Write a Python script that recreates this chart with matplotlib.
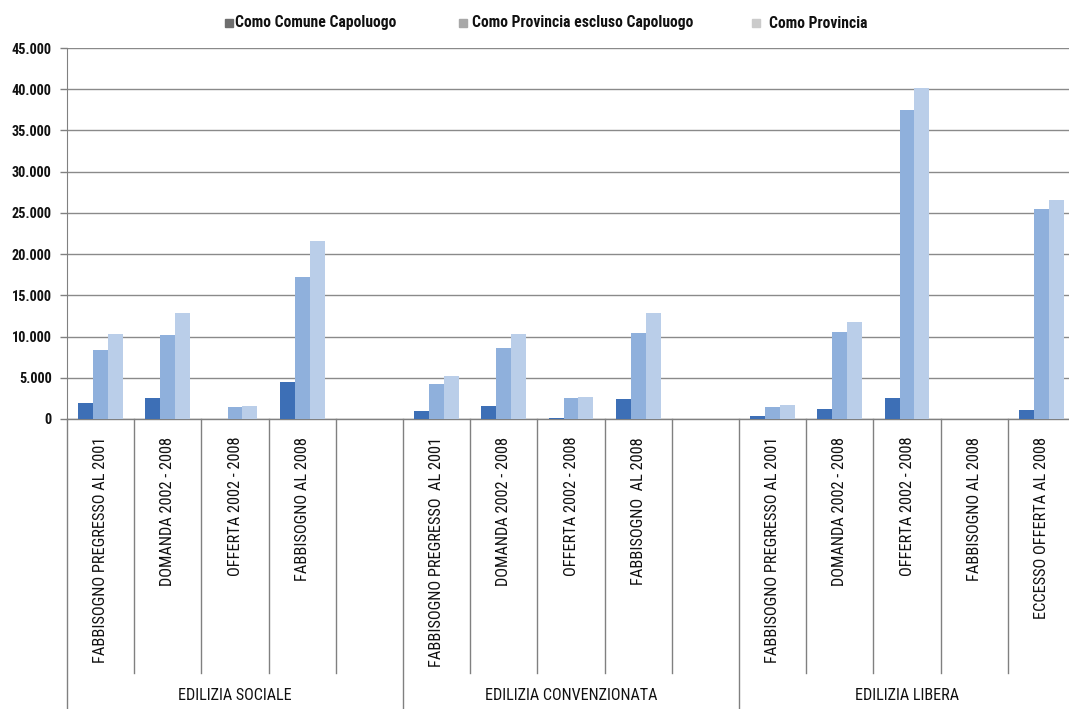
import matplotlib
matplotlib.use("Agg")
import matplotlib.pyplot as plt
from matplotlib import font_manager as fm
from matplotlib.textpath import TextPath
from matplotlib.transforms import blended_transform_factory
import numpy as np

# Housing figures for the province of Como
categories = [
    "FABBISOGNO PREGRESSO AL 2001", "DOMANDA 2002 - 2008", "OFFERTA 2002 - 2008",
    "FABBISOGNO AL 2008", "",
    "FABBISOGNO PREGRESSO  AL 2001", "DOMANDA 2002 - 2008", "OFFERTA 2002 - 2008",
    "FABBISOGNO  AL 2008", "",
    "FABBISOGNO PREGRESSO AL 2001", "DOMANDA 2002 - 2008", "OFFERTA 2002 - 2008",
    "FABBISOGNO AL 2008", "ECCESSO OFFERTA AL 2008",
]
groups = ["EDILIZIA SOCIALE", "EDILIZIA CONVENZIONATA", "EDILIZIA LIBERA"]
series_names = ["Como Comune Capoluogo", "Como Provincia escluso Capoluogo", "Como Provincia"]

comune = [1900, 2600, 50, 4450, 0,
          1000, 1600, 100, 2450, 0,
          350, 1200, 2600, 0, 1100]
provincia_escl = [8400, 10200, 1500, 17200, 0,
                  4200, 8650, 2600, 10400, 0,
                  1400, 10600, 37500, 0, 25500]
provincia = [10300, 12800, 1550, 21650, 0,
             5200, 10250, 2700, 12850, 0,
             1700, 11800, 40100, 0, 26600]

yticks = [0, 5000, 10000, 15000, 20000, 25000, 30000, 35000, 40000, 45000]
ytick_labels = ["0", "5.000", "10.000", "15.000", "20.000", "25.000",
                "30.000", "35.000", "40.000", "45.000"]

bar_colors = ["#3d6fb6", "#8fb0dc", "#bacee9"]
legend_colors = ["#6e6e6e", "#a8a8a8", "#cbcbcb"]

W, H = 1069, 709
DPI = 100


def pick_font(bold):
    """Prefer a narrow sans face; fall back to Liberation Sans."""
    wanted = ["Liberation Sans Narrow", "Arial Narrow", "Roboto Condensed",
              "Open Sans Condensed", "DejaVu Sans Condensed"]
    def is_bold(f):
        w = f.weight
        if isinstance(w, str):
            return "bold" in w.lower() or w.lower() in ("heavy", "black")
        return w >= 600
    for name in wanted:
        for f in fm.fontManager.ttflist:
            if f.name == name and is_bold(f) == bold and f.style == "normal":
                return fm.FontProperties(fname=f.fname)
    for f in fm.fontManager.ttflist:
        if (f.name == "DejaVu Sans" and "condensed" in str(f.stretch)
                and is_bold(f) == bold and f.style == "normal"):
            return fm.FontProperties(fname=f.fname)
    return fm.FontProperties(family=["Liberation Sans", "DejaVu Sans"],
                             weight="bold" if bold else "normal")


def sized(prop, sample, width_px):
    """Copy of prop with the size that makes `sample` span width_px pixels."""
    w = TextPath((0, 0), sample, size=10, prop=prop).get_extents().width / 10
    p = prop.copy()
    p.set_size(width_px / (w * DPI / 72))
    return p


bold_font = pick_font(True)
reg_font = pick_font(False)
legend_prop = sized(bold_font, "Como Comune Capoluogo", 160)
tick_prop = sized(bold_font, "45.000", 39)
cat_prop = sized(reg_font, "FABBISOGNO PREGRESSO AL 2001", 224)
group_prop = sized(reg_font, "EDILIZIA SOCIALE", 113)

fig = plt.figure(figsize=(W / DPI, H / DPI), dpi=DPI)
fig.patch.set_facecolor("white")

n = len(categories)
left_px, right_px, top_px, bottom_px = 67, 1075, 48, 419
ax = fig.add_axes([left_px / W, 1 - bottom_px / H,
                   (right_px - left_px) / W, (bottom_px - top_px) / H])
ax.set_xlim(-0.5, n - 0.5)
ax.set_ylim(0, 45000)

x = np.arange(n)
bw = 1 / 4.5
for i, vals in enumerate([comune, provincia_escl, provincia]):
    ax.bar(x + (i - 1) * bw, vals, width=bw, color=bar_colors[i],
           edgecolor="none", zorder=3)

ax.set_yticks(yticks)
ax.set_yticklabels(ytick_labels, fontproperties=tick_prop, color="#111111")
ax.tick_params(axis="y", direction="out", length=5, width=1, color="#808080", pad=6)
ax.set_xticks([])
ax.grid(axis="y", color="#8a8a8a", linewidth=1, zorder=1)
for s in ["top", "right", "bottom"]:
    ax.spines[s].set_visible(False)
ax.spines["left"].set_color("#808080")

# Category axis: labels and separators below the plot
trans = blended_transform_factory(ax.transData, fig.transFigure)
y0 = 1 - bottom_px / H
y_cat = 1 - 673 / H
for i, lab in enumerate(categories):
    ax.text(i, 1 - 437 / H, lab, transform=trans, rotation=90, ha="center",
            va="top", fontproperties=cat_prop, color="#111111")
for b in range(n + 1):
    xb = b - 0.5
    y_end = 0.0 if b % 5 == 0 else y_cat
    ax.plot([xb, xb], [y0, y_end], transform=trans, color="#808080",
            linewidth=1, clip_on=False)
ax.plot([-0.5, n - 0.5], [y0, y0], transform=trans, color="#808080",
        linewidth=1, clip_on=False)
for g, name in enumerate(groups):
    ax.text(g * 5 + 2, 1 - 695 / H, name, transform=trans, ha="center",
            va="center", fontproperties=group_prop, color="#111111")

# Legend row
leg_y = 1 - 23 / H
for mx, tx, col, name in zip([228.5, 463, 756], [235, 472, 769], legend_colors, series_names):
    fig.patches.append(plt.Rectangle(((mx - 4) / W, leg_y - 4 / H), 8 / W, 8 / H,
                                     transform=fig.transFigure, color=col))
    fig.text(tx / W, leg_y, name, ha="left", va="center",
             fontproperties=legend_prop, color="#111111")

fig.savefig("out.png", dpi=DPI, facecolor="white")
